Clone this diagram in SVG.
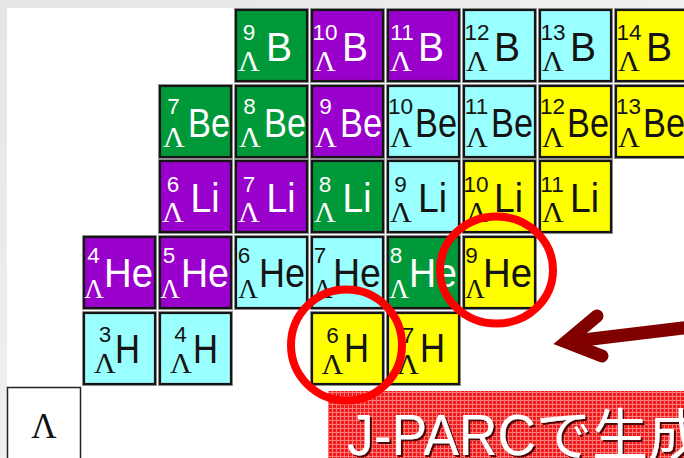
<svg xmlns="http://www.w3.org/2000/svg" width="684" height="458" viewBox="0 0 684 458">
<defs>
<style>
.halo{fill:none;stroke:#9a9a9a;stroke-width:1}
.cell{stroke:#151515;stroke-width:2.2}
.g{fill:#00993a}.p{fill:#9900cc}.cy{fill:#99ffff}.y{fill:#ffff00}
.n{font-family:"Liberation Sans",Arial,sans-serif;font-size:22.5px;text-anchor:middle}
.l{font-family:"Liberation Serif","Times New Roman",serif;font-size:30px;text-anchor:middle}
.lh{font-size:27px}
.s{font-family:"Liberation Sans",Arial,sans-serif;font-size:40px}
.w{fill:#ffffff}.k{fill:#141414}
.ring{fill:none;stroke:#ff0000;stroke-width:8}
.banner{font-family:"Liberation Sans","Noto Sans CJK JP",sans-serif;fill:#ffffff}
</style>
<pattern id="tex" width="4" height="4" patternUnits="userSpaceOnUse">
<rect width="4" height="4" fill="#f01c1c"/>
<rect width="4" height="1" fill="#ff7c7c"/>
<rect width="1" height="4" fill="#ff7c7c"/>
</pattern>
<filter id="sh" x="-5%" y="-20%" width="110%" height="140%">
<feDropShadow dx="2" dy="2" stdDeviation="0.6" flood-color="#3a0000" flood-opacity="0.9"/>
</filter>
<linearGradient id="bg" x1="0" y1="0" x2="1" y2="1">
<stop offset="0" stop-color="#e3e6e3"/>
<stop offset="0.5" stop-color="#eff1ef"/>
<stop offset="1" stop-color="#dfe3df"/>
</linearGradient>
</defs>

<rect width="684" height="458" fill="url(#bg)"/>
<rect x="7" y="8" width="677" height="450" fill="#ffffff"/>

<!-- B row -->
<g id="B9" transform="translate(235,9)"><rect class="halo" x="-0.5" y="-0.5" width="74" height="74"/><rect class="cell g" x="1" y="1" width="71" height="71"/><text class="n w" x="14" y="31">9</text><text class="l w" x="14" y="62">Λ</text><text class="s w" x="31" y="52" textLength="26" lengthAdjust="spacingAndGlyphs">B</text></g>
<g id="B10" transform="translate(311,9)"><rect class="halo" x="-0.5" y="-0.5" width="74" height="74"/><rect class="cell p" x="1" y="1" width="71" height="71"/><text class="n w" x="14" y="31">10</text><text class="l w" x="14" y="62">Λ</text><text class="s w" x="31" y="52" textLength="26" lengthAdjust="spacingAndGlyphs">B</text></g>
<g id="B11" transform="translate(387,9)"><rect class="halo" x="-0.5" y="-0.5" width="74" height="74"/><rect class="cell p" x="1" y="1" width="71" height="71"/><text class="n w" x="15" y="31">11</text><text class="l w" x="14" y="62">Λ</text><text class="s w" x="31" y="52" textLength="26" lengthAdjust="spacingAndGlyphs">B</text></g>
<g id="B12" transform="translate(463,9)"><rect class="halo" x="-0.5" y="-0.5" width="74" height="74"/><rect class="cell cy" x="1" y="1" width="71" height="71"/><text class="n k" x="14" y="31">12</text><text class="l k" x="14" y="62">Λ</text><text class="s k" x="31" y="52" textLength="26" lengthAdjust="spacingAndGlyphs">B</text></g>
<g id="B13" transform="translate(539,9)"><rect class="halo" x="-0.5" y="-0.5" width="74" height="74"/><rect class="cell cy" x="1" y="1" width="71" height="71"/><text class="n k" x="14" y="31">13</text><text class="l k" x="14" y="62">Λ</text><text class="s k" x="31" y="52" textLength="26" lengthAdjust="spacingAndGlyphs">B</text></g>
<g id="B14" transform="translate(615,9)"><rect class="halo" x="-0.5" y="-0.5" width="74" height="74"/><rect class="cell y" x="1" y="1" width="71" height="71"/><text class="n k" x="14" y="31">14</text><text class="l k" x="14" y="62">Λ</text><text class="s k" x="31" y="52" textLength="26" lengthAdjust="spacingAndGlyphs">B</text></g>

<!-- Be row -->
<g id="Be7" transform="translate(159,85)"><rect class="halo" x="-0.5" y="-0.5" width="74" height="74"/><rect class="cell g" x="1" y="1" width="71" height="71"/><text class="n w" x="14.5" y="29">7</text><text class="l w" x="15" y="62">Λ</text><text class="s w" x="29" y="52" textLength="42" lengthAdjust="spacingAndGlyphs">Be</text></g>
<g id="Be8" transform="translate(235,85)"><rect class="halo" x="-0.5" y="-0.5" width="74" height="74"/><rect class="cell g" x="1" y="1" width="71" height="71"/><text class="n w" x="14.5" y="29">8</text><text class="l w" x="15" y="62">Λ</text><text class="s w" x="29" y="52" textLength="42" lengthAdjust="spacingAndGlyphs">Be</text></g>
<g id="Be9" transform="translate(311,85)"><rect class="halo" x="-0.5" y="-0.5" width="74" height="74"/><rect class="cell p" x="1" y="1" width="71" height="71"/><text class="n w" x="14.5" y="29">9</text><text class="l w" x="15" y="62">Λ</text><text class="s w" x="29" y="52" textLength="42" lengthAdjust="spacingAndGlyphs">Be</text></g>
<g id="Be10" transform="translate(387,85)"><rect class="halo" x="-0.5" y="-0.5" width="74" height="74"/><rect class="cell cy" x="1" y="1" width="71" height="71"/><text class="n k" x="13.5" y="29">10</text><text class="l k" x="14" y="62">Λ</text><text class="s k" x="28" y="52" textLength="42" lengthAdjust="spacingAndGlyphs">Be</text></g>
<g id="Be11" transform="translate(463,85)"><rect class="halo" x="-0.5" y="-0.5" width="74" height="74"/><rect class="cell cy" x="1" y="1" width="71" height="71"/><text class="n k" x="13.5" y="29">11</text><text class="l k" x="14" y="62">Λ</text><text class="s k" x="28" y="52" textLength="42" lengthAdjust="spacingAndGlyphs">Be</text></g>
<g id="Be12" transform="translate(539,85)"><rect class="halo" x="-0.5" y="-0.5" width="74" height="74"/><rect class="cell y" x="1" y="1" width="71" height="71"/><text class="n k" x="13.5" y="29">12</text><text class="l k" x="14" y="62">Λ</text><text class="s k" x="28" y="52" textLength="42" lengthAdjust="spacingAndGlyphs">Be</text></g>
<g id="Be13" transform="translate(615,85)"><rect class="halo" x="-0.5" y="-0.5" width="74" height="74"/><rect class="cell y" x="1" y="1" width="71" height="71"/><text class="n k" x="13.5" y="29">13</text><text class="l k" x="14" y="62">Λ</text><text class="s k" x="28" y="52" textLength="42" lengthAdjust="spacingAndGlyphs">Be</text></g>

<!-- Li row -->
<g id="Li6" transform="translate(159,160)"><rect class="halo" x="-0.5" y="-0.5" width="74" height="74"/><rect class="cell p" x="1" y="1" width="71" height="71"/><text class="n w" x="14" y="32">6</text><text class="l w" x="14" y="62">Λ</text><text class="s w" x="31.5" y="52" textLength="29" lengthAdjust="spacingAndGlyphs">Li</text></g>
<g id="Li7" transform="translate(235,160)"><rect class="halo" x="-0.5" y="-0.5" width="74" height="74"/><rect class="cell p" x="1" y="1" width="71" height="71"/><text class="n w" x="14" y="32">7</text><text class="l w" x="14" y="62">Λ</text><text class="s w" x="31.5" y="52" textLength="29" lengthAdjust="spacingAndGlyphs">Li</text></g>
<g id="Li8" transform="translate(311,160)"><rect class="halo" x="-0.5" y="-0.5" width="74" height="74"/><rect class="cell g" x="1" y="1" width="71" height="71"/><text class="n w" x="14" y="32">8</text><text class="l w" x="14" y="62">Λ</text><text class="s w" x="31.5" y="52" textLength="29" lengthAdjust="spacingAndGlyphs">Li</text></g>
<g id="Li9" transform="translate(387,160)"><rect class="halo" x="-0.5" y="-0.5" width="74" height="74"/><rect class="cell cy" x="1" y="1" width="71" height="71"/><text class="n k" x="13.5" y="32">9</text><text class="l k" x="14" y="62">Λ</text><text class="s k" x="31" y="52" textLength="29" lengthAdjust="spacingAndGlyphs">Li</text></g>
<g id="Li10" transform="translate(463,160)"><rect class="halo" x="-0.5" y="-0.5" width="74" height="74"/><rect class="cell y" x="1" y="1" width="71" height="71"/><text class="n k" x="13" y="32">10</text><text class="l k" x="14" y="62">Λ</text><text class="s k" x="31" y="52" textLength="29" lengthAdjust="spacingAndGlyphs">Li</text></g>
<g id="Li11" transform="translate(539,160)"><rect class="halo" x="-0.5" y="-0.5" width="74" height="74"/><rect class="cell y" x="1" y="1" width="71" height="71"/><text class="n k" x="13" y="32">11</text><text class="l k" x="14" y="62">Λ</text><text class="s k" x="31" y="52" textLength="29" lengthAdjust="spacingAndGlyphs">Li</text></g>

<!-- He row -->
<g id="He4" transform="translate(83,236)"><rect class="halo" x="-0.5" y="-0.5" width="74" height="74"/><rect class="cell p" x="1" y="1" width="71" height="71"/><text class="n w" x="10.5" y="27">4</text><text class="l lh w" x="11" y="62">Λ</text><text class="s w" x="21" y="51" textLength="49" lengthAdjust="spacingAndGlyphs">He</text></g>
<g id="He5" transform="translate(159,236)"><rect class="halo" x="-0.5" y="-0.5" width="74" height="74"/><rect class="cell p" x="1" y="1" width="71" height="71"/><text class="n w" x="10" y="27">5</text><text class="l lh w" x="11" y="62">Λ</text><text class="s w" x="22" y="51" textLength="48" lengthAdjust="spacingAndGlyphs">He</text></g>
<g id="He6" transform="translate(235,236)"><rect class="halo" x="-0.5" y="-0.5" width="74" height="74"/><rect class="cell cy" x="1" y="1" width="71" height="71"/><text class="n k" x="9" y="27">6</text><text class="l lh k" x="13" y="62">Λ</text><text class="s k" x="24" y="51" textLength="46" lengthAdjust="spacingAndGlyphs">He</text></g>
<g id="He7" transform="translate(311,236)"><rect class="halo" x="-0.5" y="-0.5" width="74" height="74"/><rect class="cell cy" x="1" y="1" width="71" height="71"/><text class="n k" x="9" y="27">7</text><text class="l lh k" x="12" y="62">Λ</text><text class="s k" x="22" y="51" textLength="48" lengthAdjust="spacingAndGlyphs">He</text></g>
<g id="He8" transform="translate(387,236)"><rect class="halo" x="-0.5" y="-0.5" width="74" height="74"/><rect class="cell g" x="1" y="1" width="71" height="71"/><text class="n w" x="9" y="27">8</text><text class="l lh w" x="12" y="62">Λ</text><text class="s w" x="22" y="51" textLength="48" lengthAdjust="spacingAndGlyphs">He</text></g>
<g id="He9" transform="translate(463,236)"><rect class="halo" x="-0.5" y="-0.5" width="74" height="74"/><rect class="cell y" x="1" y="1" width="71" height="71"/><text class="n k" x="8.5" y="27">9</text><text class="l lh k" x="12" y="62">Λ</text><text class="s k" x="20" y="51" textLength="49" lengthAdjust="spacingAndGlyphs">He</text></g>

<!-- H row -->
<g id="H3" transform="translate(83,312)"><rect class="halo" x="-0.5" y="-0.5" width="74" height="74"/><rect class="cell cy" x="1" y="1" width="71" height="71"/><text class="n k" x="22" y="30">3</text><text class="l k" x="22" y="61">Λ</text><text class="s k" x="32" y="51" textLength="25" lengthAdjust="spacingAndGlyphs">H</text></g>
<g id="H4" transform="translate(159,312)"><rect class="halo" x="-0.5" y="-0.5" width="74" height="74"/><rect class="cell cy" x="1" y="1" width="71" height="71"/><text class="n k" x="21.5" y="30">4</text><text class="l k" x="22" y="61">Λ</text><text class="s k" x="34" y="51" textLength="25" lengthAdjust="spacingAndGlyphs">H</text></g>
<g id="H6" transform="translate(311,312)"><rect class="halo" x="-0.5" y="-0.5" width="74" height="74"/><rect class="cell y" x="1" y="1" width="71" height="71"/><text class="n k" x="21.5" y="31">6</text><text class="l k" x="21.5" y="62">Λ</text><text class="s k" x="33" y="50" textLength="25" lengthAdjust="spacingAndGlyphs">H</text></g>
<g id="H7" transform="translate(387,312)"><rect class="halo" x="-0.5" y="-0.5" width="74" height="74"/><rect class="cell y" x="1" y="1" width="71" height="71"/><text class="n k" x="21" y="31">7</text><text class="l k" x="21" y="62">Λ</text><text class="s k" x="33" y="50" textLength="25" lengthAdjust="spacingAndGlyphs">H</text></g>

<!-- Lambda box -->
<g id="Lambda">
<rect x="7.5" y="387.5" width="73" height="80" fill="#ffffff" stroke="#222222" stroke-width="1.5"/>
<text x="44" y="438" font-family="Liberation Serif, Times New Roman, serif" font-size="35" text-anchor="middle" fill="#111111">Λ</text>
</g>

<!-- banner -->
<g id="banner">
<rect x="328" y="391" width="360" height="70" fill="url(#tex)"/>
<text class="banner" x="347" y="455" filter="url(#sh)"><tspan font-size="58" textLength="189" lengthAdjust="spacingAndGlyphs">J-PARC</tspan><tspan x="536" font-size="56">で生成</tspan></text>
</g>

<!-- highlight rings -->
<g id="rings">
<circle class="ring" cx="346.5" cy="345" r="55.5"/>
<ellipse class="ring" cx="496.5" cy="270" rx="56.5" ry="53.5"/>
</g>

<!-- connectors -->
<g id="connectors" stroke="#800000" stroke-width="13" fill="none" stroke-linecap="round">
<line x1="575" y1="341" x2="700" y2="326"/>
<polyline points="597,316 566,342 602,356" stroke-linejoin="miter"/>
</g>
</svg>
